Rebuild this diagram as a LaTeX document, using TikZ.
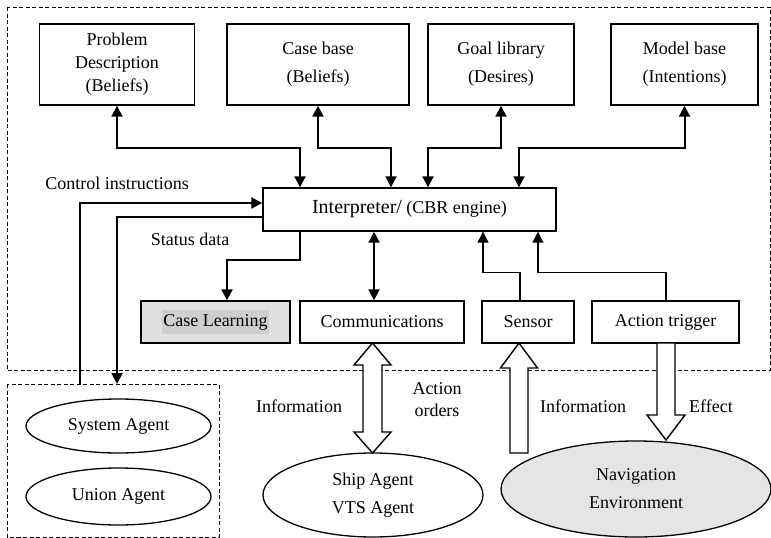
\documentclass[tikz,border=0pt]{standalone}
\usepackage{fontspec}
\setmainfont{Liberation Serif}
\usetikzlibrary{arrows.meta,shapes.geometric}
\begin{document}
\begin{tikzpicture}[x=1pt,y=-1pt,
  txt/.style={font=\fontsize{18}{22}\selectfont, inner sep=0pt},
  box/.style={txt, draw, line width=1.4pt, align=center, minimum height=81pt},
  sbox/.style={txt, draw, line width=1.4pt, minimum height=42pt},
  oval/.style={txt, draw, ellipse, line width=1.3pt, align=center},
  dbl/.style={{Triangle[length=11pt,width=11pt]}-{Triangle[length=11pt,width=11pt]}, line width=2pt},
  arr/.style={-{Triangle[length=11pt,width=11pt]}, line width=2pt},
  thinarr/.style={-{Triangle[length=11pt,width=11pt]}, line width=1.2pt},
  hollow/.style={draw, fill=white, line width=1.4pt, line join=miter},
  region/.style={draw, dashed, line width=0.9pt, dash pattern=on 4pt off 2.5pt}]
\useasboundingbox (0,0) rectangle (771,538);

% grouping regions
\draw[region] (7,7) rectangle (770,370);
\draw[region] (7,384) rectangle (219,537);

% knowledge stores
\node[box, minimum width=155pt] (pd) at (117,64.5) {Problem\\[1pt]Description\\[1pt](Beliefs)};
\node[box, minimum width=182pt] (cb) at (318,64.5) {Case base\\[6pt](Beliefs)};
\node[box, minimum width=146pt] (gl) at (501,64.5) {Goal library\\[6pt](Desires)};
\node[box, minimum width=147pt] (mb) at (684.5,64.5) {Model base\\[6pt](Intentions)};

% reasoning engine
\node[sbox, minimum width=293pt, minimum height=43pt] (interp) at (409.5,209.5)
  {{\fontsize{20}{22}\selectfont Interpreter/} (CBR engine)};

% modules
\node[sbox, minimum width=149pt, fill=black!12] (cl) at (215.5,322) {};
\node[txt, fill=black!19, minimum width=107pt, minimum height=24pt] (cltext) at (cl.center) {Case Learning};
\node[sbox, minimum width=164pt] (comm) at (382,322) {Communications};
\node[sbox, minimum width=92pt] (sens) at (528,322) {Sensor};
\node[sbox, minimum width=147pt] (act) at (665.5,322) {Action trigger};

% agents and environment
\node[oval, minimum width=185pt, minimum height=54pt] (sys) at (118.5,426) {System Agent};
\node[oval, minimum width=185pt, minimum height=57pt] (uni) at (118.5,496.5) {Union Agent};
\node[oval, minimum width=220pt, minimum height=84pt] (ship) at (373,495) {Ship Agent\\[6pt]VTS Agent};
\node[oval, minimum width=270pt, minimum height=96pt, fill=black!10] (nav) at (636,489) {Navigation\\[6pt]Environment};

% links between stores and interpreter
\draw[dbl] (pd.south) -- ++(0,42) -| ([xshift=-109.5]interp.north);
\draw[dbl] (cb.south) -- ++(0,42) -| ([xshift=-18.5]interp.north);
\draw[dbl] (gl.south) -- ++(0,42) -| ([xshift=18.5]interp.north);
\draw[dbl] (mb.south) -- ++(0,42) -| ([xshift=109.5]interp.north);

% control and status lines to the agent group
\coordinate (ctl) at (80,384);
\coordinate (sta) at (117,384);
\draw[arr] (ctl) |- ([yshift=6.5pt]interp.west);
\draw[arr] ([yshift=-7.5pt]interp.west) -| (sta);

% interpreter to modules
\draw[arr] ([xshift=-109.5]interp.south) -- ++(0,28) -| ([xshift=11.5]cl.north);
\draw[dbl] ([xshift=-35.5]interp.south) coordinate (cx) -- (cx |- comm.north);
\draw[thinarr] ([xshift=-8]sens.north) -- ++(0,-28) -| ([xshift=73.5]interp.south);
\draw[thinarr] ([xshift=0.5]act.north) -- ++(0,-28) -| ([xshift=128.5]interp.south);

% block arrows to the outside world
\draw[hollow] (372.5,343) -- (391,365) -- (382,365) -- (382,432) -- (391,432) -- (372.5,453)
  -- (354,432) -- (363,432) -- (363,365) -- (354,365) -- cycle;
\draw[hollow] (519,343) -- (537.5,368) -- (528,368) -- (528,453) -- (510,453) -- (510,368)
  -- (500.5,368) -- cycle;
\draw[hollow] (657,343) -- (675,343) -- (675,415) -- (685,415) -- (666,440) -- (647,415)
  -- (657,415) -- cycle;

% labels
\node[txt] (lci) at (117,183) {Control instructions};
\node[txt] (lsd) at (190,239) {Status data};
\node[txt] (lin1) at (299,406) {Information};
\node[txt, align=center] (lao) at (437,400) {Action\\[0pt]orders};
\node[txt] (lin2) at (583,406) {Information};
\node[txt] (lef) at (711,406) {Effect};
\end{tikzpicture}
\end{document}
